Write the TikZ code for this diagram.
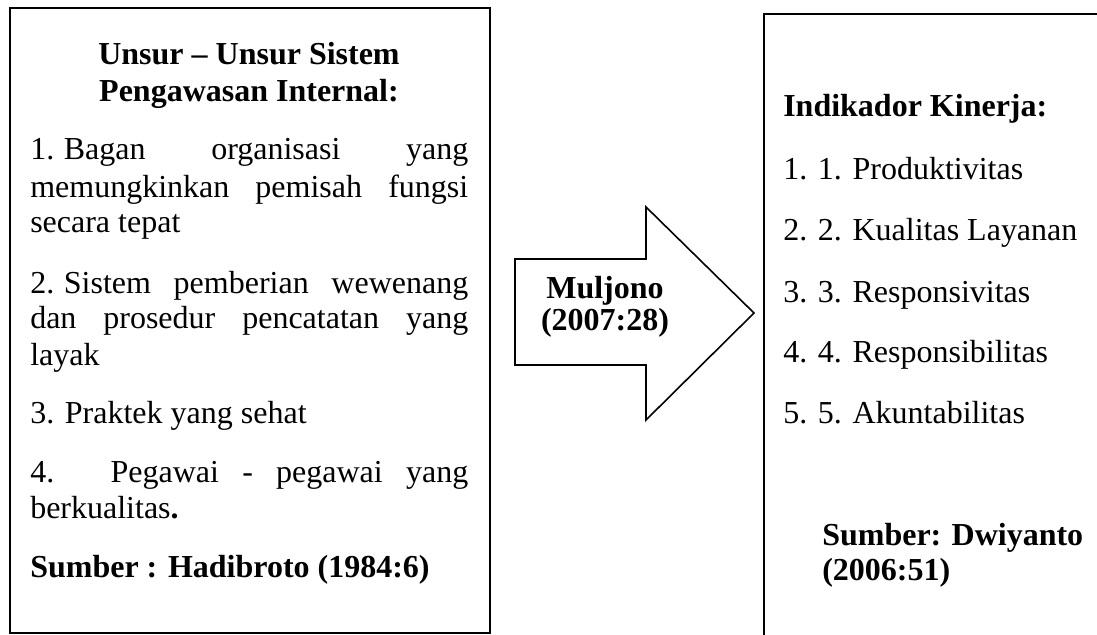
\documentclass[tikz,border=0pt]{standalone}
\usepackage{fontspec}
\setmainfont{Liberation Serif}
\newcommand\myjust[2]{\makebox[#1][s]{#2}}
\begin{document}
\begin{tikzpicture}[x=0.75pt,y=-0.75pt,
  boxstyle/.style={draw=black, line width=1.6pt, inner sep=0pt, anchor=north west},
  txt/.style={anchor=base west, inner sep=0pt, font=\fontsize{24pt}{27pt}\selectfont},
  btxt/.style={anchor=base west, inner sep=0pt, font=\fontsize{24pt}{27pt}\selectfont\bfseries},
  ctr/.style={anchor=base, inner sep=0pt, font=\fontsize{24pt}{27pt}\selectfont\bfseries},
  arrowshape/.style={draw=black, line width=1.2pt, fill=white, line join=miter}]
\useasboundingbox (0,0) rectangle (1097,635);
\clip (0,0) rectangle (1097,635);
\fill[white] (0,0) rectangle (1097,635);

% left box
\node[boxstyle, minimum width=360pt, minimum height=468.75pt] (leftbox) at (9,7) {};
\node[ctr] (t1) at (249,65) {Unsur – Unsur Sistem};
\node[ctr] (t2) at (249,102) {Pengawasan Internal:};
\node[txt] (a1) at (30,160) {\myjust{328.5pt}{1.\hspace{0.3em}Bagan organisasi yang}};
\node[txt] (a2) at (30,197) {\myjust{328.5pt}{memungkinkan pemisah fungsi}};
\node[txt] (a3) at (30,232) {secara tepat};
\node[txt] (b1) at (30,293) {\myjust{328.5pt}{2.\hspace{0.3em}Sistem pemberian wewenang}};
\node[txt] (b2) at (30,328) {\myjust{328.5pt}{dan prosedur pencatatan yang}};
\node[txt] (b3) at (30,365) {layak};
\node[txt] (c1) at (30,423) {3. Praktek yang sehat};
\node[txt] (d1) at (30,482) {\myjust{328.5pt}{4. Pegawai - pegawai yang}};
\node[txt] (d2) at (30,518) {berkualitas\textbf{.}};
\node[btxt] (s1) at (30,577) {Sumber : Hadibroto (1984:6)};

% block arrow
\coordinate (p1) at (515,259);
\coordinate (p2) at (646,259);
\coordinate (p3) at (646,207);
\coordinate (tip) at (754,313);
\coordinate (p5) at (646,420);
\coordinate (p6) at (646,365);
\coordinate (p7) at (515,365);
\draw[arrowshape] (p1) -- (p2) -- (p3) -- (tip) -- (p5) -- (p6) -- (p7) -- cycle;
\node[ctr] (m1) at (605,298) {Muljono};
\node[ctr] (m2) at (605,330) {(2007:28)};

% right box
\node[boxstyle, minimum width=300pt, minimum height=525pt] (rightbox) at (763,13) {};
\node[btxt] (r0) at (783,117) {Indikador Kinerja:};
\node[txt] (r1) at (783,180) {1. 1. Produktivitas};
\node[txt] (r2) at (783,240) {2. 2. Kualitas Layanan};
\node[txt] (r3) at (783,302) {3. 3. Responsivitas};
\node[txt] (r4) at (783,362) {4. 4. Responsibilitas};
\node[txt] (r5) at (783,423) {5. 5. Akuntabilitas};
\node[btxt] (rs1) at (822,545) {\myjust{195.75pt}{Sumber: Dwiyanto}};
\node[btxt] (rs2) at (822,580) {(2006:51)};
\end{tikzpicture}
\end{document}
